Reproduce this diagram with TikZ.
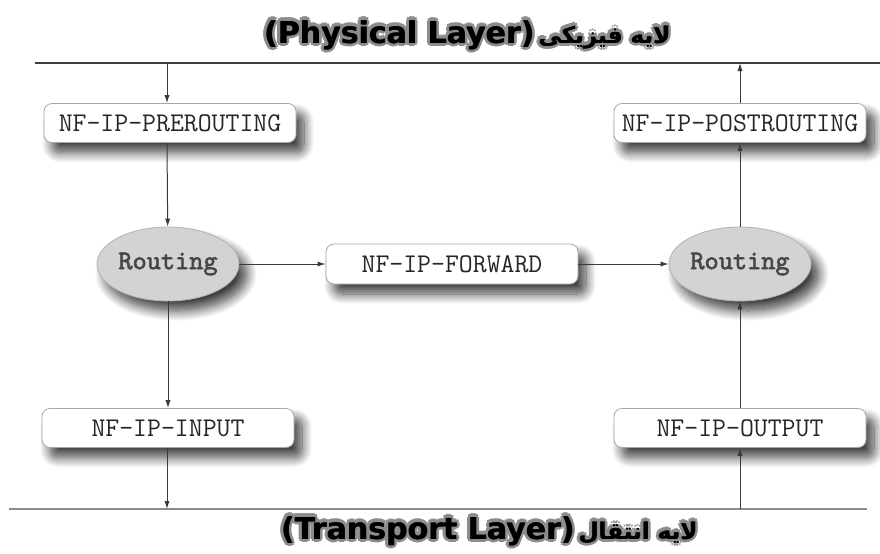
\documentclass[tikz,border=0pt]{standalone}
\usepackage{fontspec}
\setmainfont{DejaVu Sans}
\newfontfamily\arabicfont[Script=Arabic]{DejaVu Sans}
\newfontfamily\routefont[FakeBold=2.2]{lmmono10-regular.otf}
\TeXXeTstate=1
\usetikzlibrary{arrows.meta,shapes.geometric,shadows.blur}
\definecolor{linegray}{HTML}{3A3A3A}
\definecolor{ovalgray}{HTML}{D3D3D3}
\definecolor{textgray}{HTML}{474747}
\definecolor{glowgray}{HTML}{8C8C8C}
% the two title lines: English part, then the Persian words
\newcommand{\physicaltitle}{(Physical Layer)\hspace{2pt}%
  {\arabicfont\fontsize{11.5}{13}\selectfont\beginR لایه فیزیکی\endR}}
\newcommand{\transporttitle}{(Transport Layer)\hspace{2pt}%
  {\arabicfont\fontsize{11.5}{13}\selectfont\beginR لایه انتقال\endR}}

\begin{document}
\begin{tikzpicture}[x=0.5pt,y=-0.5pt,
  hook/.style={draw=black!35,rounded corners=4pt,fill=white,minimum width=126pt,
    minimum height=19.5pt,inner sep=0pt,text=black!85,
    font=\ttfamily\fontsize{13.5}{15}\selectfont,
    blur shadow={shadow xshift=4pt,shadow yshift=-5pt,shadow blur radius=5pt,
      shadow blur steps=12,shadow opacity=75}},
  router/.style={ellipse,draw=black!30,fill=ovalgray,minimum width=71pt,
    minimum height=37pt,inner sep=0pt,text=textgray,
    font=\routefont\fontsize{13.5}{15}\selectfont,
    blur shadow={shadow xshift=4pt,shadow yshift=-5pt,shadow blur radius=5pt,
      shadow blur steps=12,shadow opacity=75}},
  layer/.style={font=\bfseries\fontsize{15}{18}\selectfont,inner sep=0pt},
  wire/.style={line width=1pt},
  flow/.style={-{Latex[length=4pt,width=2.6pt]},line width=0.5pt,draw=linegray}
]
\useasboundingbox (0,0) rectangle (880,553);

% layer titles: grey halo first, then a heavy black face
\foreach \a in {0,45,...,315}{
  \node[layer,text=glowgray,xshift={1.6pt*cos(\a)},yshift={1.6pt*sin(\a)}] at (467,35) {\physicaltitle};
  \node[layer,text=glowgray,xshift={1.6pt*cos(\a)},yshift={1.6pt*sin(\a)}] at (489,531) {\transporttitle};
}
\node[layer,xshift=0.3pt] at (467,35) {\physicaltitle};
\node[layer,xshift=0.3pt] at (489,531) {\transporttitle};
\node[layer] (physical) at (467,35) {\physicaltitle};
\node[layer] (transport) at (489,531) {\transporttitle};

% layer boundaries
\draw[wire,draw=black!75] (35,63) coordinate (topL) -- (880,63) coordinate (topR);
\draw[wire,draw=black!45] (9,509) coordinate (botL) -- (867,509) coordinate (botR);
\coordinate (inL) at (167,63);
\coordinate (outL) at (167,509);
\coordinate (inR) at (740,509);
\coordinate (outR) at (740,63);

% hooks
\node[hook] (pre) at (170,123) {NF-IP-PREROUTING};
\node[router] (rtL) at (168,264) {Routing};
\node[hook] (input) at (168,428) {NF-IP-INPUT};
\node[hook,minimum height=20pt] (fwd) at (452,264) {NF-IP-FORWARD};
\node[router] (rtR) at (740,264) {Routing};
\node[hook] (post) at (740,123) {NF-IP-POSTROUTING};
\node[hook] (output) at (740,428) {NF-IP-OUTPUT};

% packet flow
\draw[flow] (inL) -- (inL|-pre.north);
\draw[flow] (pre.south-|inL) -- (rtL);
\draw[flow] (rtL) -- (input.north-|rtL);
\draw[flow] (input.south-|outL) -- (outL);
\draw[flow] (rtL) -- (fwd);
\draw[flow] (fwd) -- (rtR);
\draw[flow] (inR) -- (output);
\draw[flow] (output) -- (rtR);
\draw[flow] (rtR) -- (post);
\draw[flow] (post) -- (outR);
\end{tikzpicture}
\end{document}
